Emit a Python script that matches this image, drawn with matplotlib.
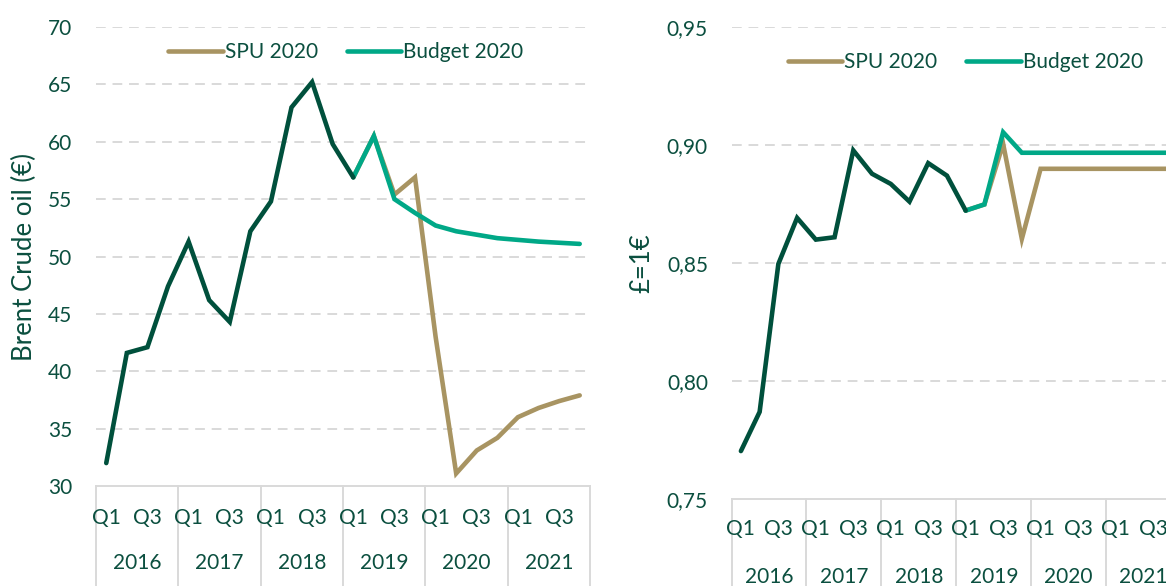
import numpy as np
import matplotlib.pyplot as plt
import matplotlib.transforms as mtransforms

plt.rcParams['font.family'] = ['Lato', 'DejaVu Sans']

TEXT = '#0B4F3F'
DARK = '#00503C'
TEAL = '#00A887'
TAN = '#A89462'
GRID = '#D9D9D9'

years = ['2016', '2017', '2018', '2019', '2020', '2021']
quarters = ['Q1', 'Q2', 'Q3', 'Q4']
nan = np.nan

# Brent crude oil (EUR), 2016Q1 .. 2021Q4
oil_hist = [32.0, 41.6, 42.1, 47.4, 51.3, 46.2, 44.3, 52.2, 54.8, 63.0, 65.2, 59.8, 56.9] + [nan] * 11
oil_spu = [nan] * 12 + [56.9, 60.5, 55.4, 56.9, 43.0, 31.1, 33.1, 34.2, 36.0, 36.8, 37.4, 37.9]
oil_budget = [nan] * 12 + [56.9, 60.5, 55.0, 53.8, 52.7, 52.2, 51.9, 51.6, 51.45, 51.3, 51.2, 51.1]

# GBP per EUR
fx_hist = [0.7703, 0.7869, 0.8496, 0.8691, 0.8599, 0.8609, 0.8977, 0.8878, 0.8835, 0.8760, 0.8923, 0.8870, 0.8722] + [nan] * 11
fx_spu = [nan] * 12 + [0.8722, 0.8748, 0.9005, 0.8602, 0.8899, 0.8899, 0.8899, 0.8899, 0.8899, 0.8899, 0.8899, 0.8899]
fx_budget = [nan] * 12 + [0.8722, 0.8748, 0.9054, 0.8967, 0.8967, 0.8967, 0.8967, 0.8967, 0.8967, 0.8967, 0.8967, 0.8967]

fig = plt.figure(figsize=(11.66, 5.86), dpi=100)
FS = 15


def draw_panel(ax, hist, spu, budget, ylim, yticks, fmt, ylabel, ylabel_x,
               qy, yy, divy, leg_anchor):
    x = np.arange(len(years) * 4)
    ax.plot(x, spu, color=TAN, lw=3.3, solid_capstyle='round', solid_joinstyle='miter', label='SPU 2020')
    ax.plot(x, budget, color=TEAL, lw=3.3, solid_capstyle='round', solid_joinstyle='miter', label='Budget 2020')
    ax.plot(x, hist, color=DARK, lw=3.3, solid_capstyle='round', solid_joinstyle='miter')

    ax.set_xlim(-0.5, len(x) - 0.5)
    ax.set_ylim(*ylim)
    ax.set_yticks(yticks)
    ax.set_yticklabels([fmt(v) for v in yticks])
    ax.tick_params(axis='y', length=0, pad=17, labelsize=FS, labelcolor=TEXT)
    ax.set_xticks([])
    for v in yticks[1:]:
        ax.axhline(v, color=GRID, lw=1.4, ls=(0, (5, 3.5)), zorder=0)
    for s in ['top', 'right', 'left']:
        ax.spines[s].set_visible(False)
    ax.spines['bottom'].set_color(GRID)
    ax.spines['bottom'].set_linewidth(1.4)

    trans = mtransforms.blended_transform_factory(ax.transData, ax.transAxes)
    for i in range(len(x)):
        if i % 2 == 0:
            ax.text(i, qy, quarters[i % 4], transform=trans, ha='center', va='center',
                    fontsize=FS, color=TEXT, clip_on=False)
    for k, yr in enumerate(years):
        ax.text(k * 4 + 1.5, yy, yr, transform=trans, ha='center', va='center',
                fontsize=FS, color=TEXT, clip_on=False)
    for k in range(len(years) + 1):
        ax.plot([k * 4 - 0.5] * 2, [0, divy], transform=trans, color=GRID, lw=1.4, clip_on=False)

    ax.text(ylabel_x, 0.5, ylabel, transform=ax.transAxes, rotation=90, ha='center',
            va='center', fontsize=18.5, color=TEXT)
    leg = ax.legend(loc='center', bbox_to_anchor=leg_anchor, ncol=2, frameon=False,
                    fontsize=FS, handlelength=2.6, handletextpad=0.1, columnspacing=1.4)
    for t in leg.get_texts():
        t.set_color(TEXT)


ax1 = fig.add_axes([0.0823, 0.1706, 0.4237, 0.7833])
draw_panel(ax1, oil_hist, oil_spu, oil_budget, (30, 70), list(range(30, 71, 5)),
           lambda v: f'{v:d}', 'Brent Crude oil (€)', -0.145,
           -0.0697, -0.168, -0.218, (0.506, 0.946))

ax2 = fig.add_axes([0.6274, 0.1485, 0.3855, 0.8055])
draw_panel(ax2, fx_hist, fx_spu, fx_budget, (0.75, 0.95), [0.75, 0.80, 0.85, 0.90, 0.95],
           lambda v: f'{v:.2f}'.replace('.', ','), '£=1€', -0.2,
           -0.0636, -0.165, -0.184, (0.52, 0.926))

fig.savefig('out.png', dpi=100)
